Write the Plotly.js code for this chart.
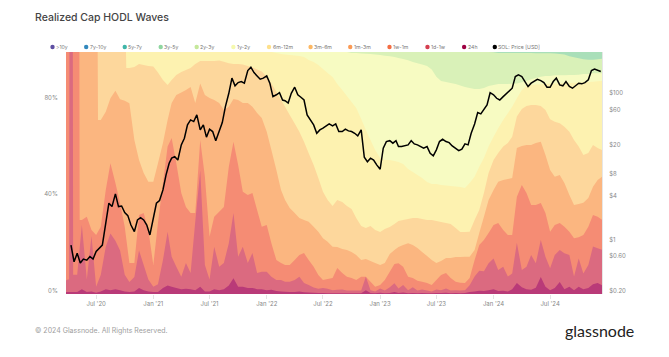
<!DOCTYPE html>
<html><head><meta charset="utf-8">
<script src="https://cdn.plot.ly/plotly-3.0.1.min.js"></script>
<style>html,body{margin:0;padding:0;background:#fff}#c{width:669px;height:357px}</style>
</head><body><div id="c"></div>
<script>
// Legend
const legendNames = [">10y","7y-10y","5y-7y","3y-5y","2y-3y","1y-2y","6m-12m","3m-6m","1m-3m","1w-1m","1d-1w","24h","SOL: Price [USD]"];
const legendColors = ["#5e4fa2","#3288bd","#3fb5a8","#8fd6a0","#c5e89b","#f5f9ae","#fee08b","#fdb863","#fb9a55","#f46d43","#d53e4f","#9e0142","#000000"];
const legendPx = [52,85.7,124.3,160.3,196.3,233,268.7,310.3,350,389.3,427.3,464,494.7];

// Axis ticks
const xTickVals = ["2020-07-01","2021-01-01","2021-07-01","2022-01-01","2022-07-01","2023-01-01","2023-07-01","2024-01-01","2024-07-01"];
const xTickText = ["Jul '20","Jan '21","Jul '21","Jan '22","Jul '22","Jan '23","Jul '23","Jan '24","Jul '24"];
const pctTicks = [0,40,80];
const pctText = ["0%","40%","80%"];
const priceTicks = [0.2,0.6,1,4,8,20,60,100];
const priceText = ["$0.20","$0.60","$1","$4","$8","$20","$60","$100"];

// Sampling dates of the bands: the 1st and 16th of each month
const bandDates = ["2020-03-16"];
for (let y=2020;y<=2024;y++) for (let m=(y===2020?4:1);m<=12;m++) {
  const mm=String(m).padStart(2,"0");
  bandDates.push(y+"-"+mm+"-01", y+"-"+mm+"-16");
}
// Sampling dates of the price: the 1st, 11th and 21st of each month
const priceDates = ["2020-04-11","2020-04-21"];
for (let y=2020;y<=2024;y++) for (let m=(y===2020?5:1);m<=12;m++) {
  const mm=String(m).padStart(2,"0");
  for (const d of ["01","11","21"]) { if(!(y===2024&&m===12&&d==="21")) priceDates.push(y+"-"+mm+"-"+d); }
}

// Cumulative share (%) at the top of each cohort band
const top24h = [0.8,0.8,0.8,0.8,2,0.8,1,0.5,1,2,1.5,2,1.5,1,0.8,1,2.5,1.5,1,0.8,
 0.8,2.5,3.5,3,2.5,2,2.2,2,1.5,3,1,1,2,1.5,2,3.5,6.5,3,3,2.5,
 2.5,2,2,1.5,1.8,1.2,1,0.9,0.8,0.8,1,0.7,0.6,0.5,0.4,0.4,0.3,0.3,0.3,0.3,
 0.3,0.3,0.3,0.3,1.5,0.4,0.3,0.5,0.3,0.4,0.8,0.4,0.6,0.3,0.4,0.3,0.4,0.3,0.3,0.4,
 0.4,0.5,0.3,0.4,0.3,0.4,0.8,1,1.3,1.2,1.6,2,1.2,1.3,1,2,4.5,2.8,2,1.8,
 2.6,7,3,1.5,2.5,5,2,3,1.5,3,2,2.5,4,4.5,3.5];
const top1d1w = [5,6,100,8,28.5,6,24,3,8,19.5,25,22,18,8,5,7,18,12,6,3,
 4,14,25.7,15.4,11.3,7.1,12.8,8.7,30,51,12,6,19.5,11.3,12.8,21,33.5,15.4,19.5,12.8,
 16.9,8.7,9.2,9.2,7.1,5.8,5.8,5.1,5.1,5.8,7.1,4.5,3.7,2.7,2.2,2.5,2.2,1.6,1.8,1.9,
 1.4,1.4,1.4,1.4,7.1,1.6,1,2.3,1.4,2.8,4.4,2.3,3.7,1.6,2.8,1.4,1.9,1.4,1,1.9,
 1.6,2.3,1.4,1.6,1.4,1.6,3.6,7.2,9.6,9.4,12.7,14.7,9.9,11.3,7.2,8.5,21.2,9.9,11.3,16.1,
 12.7,22.3,15.4,10.6,16.1,18.2,16.8,16.1,7.2,14.7,8.5,12,19.6,18.9,18.2];
const top1w1m = [100,100,100,100,30.6,31.9,26.4,24.4,27.8,43,54,45.9,37.6,27.8,12.8,12.8,32.6,33.5,26.4,12,
 29.3,45.9,60.9,64.5,54,41.7,36,33.5,33.5,63.6,48.5,23.7,31.9,34,36,52.6,62.9,53.3,42.3,40.9,
 41.7,34.7,27.8,28.5,21,14,12.8,12,12,14,16.1,16.9,14,11.3,7.9,5.8,6.2,6.6,10.7,8.7,
 7.1,6.6,5.8,7.1,7.1,5.1,3,3.7,5.8,9.2,12.4,12.7,11.3,7.1,6.6,5.5,5.1,4.5,3.7,5.8,
 7.9,8.7,6.6,5.1,4.7,4.5,6.6,14,20.2,22.3,25.2,28.5,29.3,26.4,24.4,24.4,40.2,45,41.7,36.8,
 36.8,37.6,33.5,25.7,28.5,29.3,27.8,25.7,23,23.4,24.4,27.8,32.6,31.9,30.6];
const top1m3m = [100,100,100,100,100,100,100,100,71.9,75.3,80.9,84,80.5,79.9,78.8,63.6,55.4,50,46.4,46.4,
 54,62.4,71.9,78.9,82.2,83.3,84.3,85.5,78.9,87,82.2,81,80.2,78.9,76,77.4,80.6,80.2,78.9,78.9,
 77.4,74.8,72.7,67,59.5,51.2,43,38.8,35.5,33.5,31.4,30.6,29.9,27.8,25.7,23,21.6,19.5,19.4,18.6,
 18.2,17.4,16.1,14,14.5,13.6,12.8,12,12.8,16.5,18.2,19.4,20.2,21,20.2,19,17.4,15.7,14,12.8,
 13.6,14.9,14.9,15.3,15.3,15.4,15.4,18.2,25.2,31.9,38.8,43,46.4,47.1,47.5,47.9,60.3,61.2,61.6,61.6,
 62.4,62.9,57.4,51.2,48.5,49.2,45.9,40.9,36.8,37.2,37.7,39.7,44.3,47.1,48.5];
const top3m6m = [100,100,100,100,100,100,100,100,100,100,100,100,100,100,93.4,93.8,95,94.6,94.2,94,
 91.5,88.4,86.4,88.4,90.5,91.7,92.6,93.4,95,96.3,96.3,96.3,96.3,96.5,96,95.3,95,95,94.8,94.2,
 93.7,92.8,91.9,89.8,87,83.6,80.2,77.4,74,70.5,67,62.9,58.2,53.3,47.9,42.3,38.8,36.4,38.8,38,
 36.4,35.1,31.4,28.1,27.3,28.1,26.4,25.6,26.9,27.7,28.9,30.2,30.6,31,31.4,31.4,31,30.6,30.6,30.2,
 29.8,29.3,28.9,27.3,25.6,25.6,25.7,30.6,34.7,41.7,50,55.4,58.3,60.9,62.4,65,73.3,76.4,77.7,78.1,
 78.1,77.7,76,72.2,71.2,70.6,69.1,67,63.6,60.9,57.4,58.3,61.6,60.3,59.5];
const top6m12m = [100,100,100,100,100,100,100,100,100,100,100,100,100,100,100,100,100,100,100,100,
 100,100,100,100,100,100,100,100,100,100,100,100,100,100,100,100,100,100,100,100,
 100,100,100,100,100,99.6,99.2,99,98.8,98.6,98.3,97.9,96.7,95.9,94.6,93,91.3,89.7,86.8,84.3,
 81.8,79.3,76.9,72.3,67.8,63.6,59.5,56.2,55.4,55.4,55,54.5,53.7,51.7,50.4,49.2,47.9,46.3,45.5,45.5,
 45,44.8,44.6,44.4,44.2,43.8,45.9,48.5,52.6,56.2,60.9,65,68.5,71.9,74.7,77.4,80.9,84.3,86,86.4,
 86.6,86.7,86.8,86.9,87,87,87.1,87.2,87.3,87.4,87.5,87.6,87.7,87.9,88];
const top1y2y = [100,100,100,100,100,100,100,100,100,100,100,100,100,100,100,100,100,100,100,100,
 100,100,100,100,100,100,100,100,100,100,100,100,100,100,100,100,100,100,100,100,
 100,100,100,100,100,100,100,100,100,100,100,100,100,100,100,100,100,100,100,100,
 100,99.6,99.6,99.4,99.3,99.2,99,98.8,98.5,98.2,97.9,97.5,97.1,96.6,95.9,95.3,94.8,94.2,92.8,89.8,
 88,87.6,87.2,86.8,86.2,85.5,85.1,84.7,84.7,85.1,86,86.4,86.8,86.8,86.8,86.9,87,87.5,88,88.7,
 89.3,89.8,90.1,90.1,90.4,90.4,90.4,90.5,90.5,90.6,90.9,90.9,91.2,91.2,91.2];
const top2y3y = [100,100,100,100,100,100,100,100,100,100,100,100,100,100,100,100,100,100,100,100,
 100,100,100,100,100,100,100,100,100,100,100,100,100,100,100,100,100,100,100,100,
 100,100,100,100,100,100,100,100,100,100,100,100,100,100,100,100,100,100,100,100,
 100,100,100,100,100,100,100,100,100,100,100,100,100,100,100,100,100,100,100,100,
 100,100,100,100,100,100,100,100,100,100,100,99.9,99.6,99.6,99.6,99.6,99.6,99.6,99.6,99.6,
 99.5,99.5,99.5,99.5,99.4,99.2,99,98.2,97.8,97.4,97,96.8,96.8,97,97.2];
const top3y5y = [100,100,100,100,100,100,100,100,100,100,100,100,100,100,100,100,100,100,100,100,
 100,100,100,100,100,100,100,100,100,100,100,100,100,100,100,100,100,100,100,100,
 100,100,100,100,100,100,100,100,100,100,100,100,100,100,100,100,100,100,100,100,
 100,100,100,100,100,100,100,100,100,100,100,100,100,100,100,100,100,100,100,100,
 100,100,100,100,100,100,100,100,100,100,100,100,100,100,100,100,100,100,100,100,
 100,100,100,100,100,100,100,100,100,100,100,100,100,100,100];

// Sharp step edges at the start of the history
const edge1d1wDates = ["2020-04-05","2020-04-06","2020-04-17","2020-04-18"];
const edge1d1wVals = [6,100,100,8];
const edge1w1mDates = ["2020-05-08","2020-05-09"];
const edge1w1mVals = [100,30.6];
const edge1m3mDates = ["2020-07-06","2020-07-07"];
const edge1m3mVals = [100,71.9];
const edge3m6mDates = ["2020-10-05","2020-10-06"];
const edge3m6mVals = [100,93.4];

// SOL price, USD
const solPrice = [0.93,0.55,0.72,0.53,0.60,0.58,0.65,0.60,0.76,0.84,0.93,1.85,3.47,3.12,4.65,3.12,3.18,2.58,2.35,1.75,
 1.42,2.05,2.2,2.05,1.75,1.28,2.05,3.47,3.77,5.27,8.45,12.2,14.3,15,13.5,21.7,26.8,40.7,47.6,45.2,
 55.7,34.8,40.7,27.7,35.6,33,24.8,34.8,43.8,72.4,110,177,139,154,159,151,225,250,211,190,
 171,177,190,151,99,105,112,89,87,81,110,133,105,97,89,55.7,47.6,40.7,31.3,34.8,
 36.7,39.4,42,39.4,42,33,33,35.6,33.7,33,31.3,28.8,34.8,14.7,12.8,14.3,13.5,11.6,10.1,19.6,
 24.1,24.8,22.9,24.8,20.6,20.6,21,21.7,24.8,22.4,21.7,20.6,19.6,20.6,16.7,15.4,18.6,24.1,25.9,24.1,
 23.3,21,19.6,18.1,19,22.4,21.7,31.3,42,60,57.6,66.7,76.4,112,105,94,89,99,108,116,
 129,186,196,186,159,136,151,159,171,164,154,133,133,159,177,143,139,159,136,129,
 139,151,148,154,168,225,235,225,218];

function merged(vals, eDates, eVals){
  const pts = bandDates.map((d,i)=>[d,vals[i]]);
  if (eDates) eDates.forEach((d,i)=>{ const j=pts.findIndex(p=>p[0]===d); if(j>=0) pts.splice(j,1); pts.push([d,eVals[i]]); });
  pts.sort((a,b)=>a[0]<b[0]?-1:a[0]>b[0]?1:0);
  return {x:pts.map(p=>p[0]), y:pts.map(p=>p[1])};
}
function band(name,vals,color,eD,eV){
  const m = merged(vals,eD,eV);
  return {type:"scatter",mode:"none",name,x:m.x,y:m.y,fill:"tozeroy",fillcolor:color,line:{width:0},hoverinfo:"skip",xaxis:"x",yaxis:"y"};
}
const traces = [
  band("3y-5y",top3y5y,"#a9dfb9"),
  band("2y-3y",top2y3y,"#d9f1b8"),
  band("1y-2y",top1y2y,"#f7fbc2"),
  band("6m-12m",top6m12m,"#fdf2b0"),
  band("3m-6m",top3m6m,"#fdd79c",edge3m6mDates,edge3m6mVals),
  band("1m-3m",top1m3m,"#fbb680",edge1m3mDates,edge1m3mVals),
  band("1w-1m",top1w1m,"#f58c74",edge1w1mDates,edge1w1mVals),
  band("1d-1w",top1d1w,"#db6a80",edge1d1wDates,edge1d1wVals),
  band("24h",top24h,"#b93a78"),
  {type:"scatter",mode:"lines",name:"SOL: Price [USD]",x:priceDates,y:solPrice,yaxis:"y2",xaxis:"x",line:{color:"#000",width:1.5}}
];

const L=65.5,R=602,T=52,B=294;
const px=v=>(v-L)/(R-L), py=v=>(B-v)/(B-T);
const shapes = legendPx.map((p,i)=>({type:"circle",xref:"paper",yref:"paper",x0:px(p-2.2),x1:px(p+2.2),y0:py(47+2.2),y1:py(47-2.2),fillcolor:legendColors[i],line:{width:0}}));
const annotations = legendPx.map((p,i)=>({xref:"paper",yref:"paper",x:px(p+1.5),y:py(47),xanchor:"left",yanchor:"middle",showarrow:false,text:legendNames[i],font:{family:"Inter",size:5.2,color:"#777"}}));
annotations.push({xref:"paper",yref:"paper",x:px(32.5),y:py(330.5),xanchor:"left",yanchor:"middle",showarrow:false,text:"© 2024 Glassnode. All Rights Reserved.",font:{family:"Inter",size:7,color:"#a0a0a0"}});
annotations.push({xref:"paper",yref:"paper",x:px(636),y:py(330),xanchor:"right",yanchor:"middle",showarrow:false,text:"glassnode",font:{family:"Lato",size:16,color:"#222"}});

Plotly.newPlot("c",traces,{
  width:669,height:357,
  margin:{l:L,r:669-R,t:T,b:357-B,pad:0},
  paper_bgcolor:"#fff",plot_bgcolor:"#fff",showlegend:false,
  title:{text:"Realized Cap HODL Waves",x:35/669,xanchor:"left",y:1-17.5/357,yanchor:"middle",font:{family:"Inter",size:10.5,weight:500,color:"#444"}},
  xaxis:{type:"date",range:["2020-03-26","2024-12-15"],tickmode:"array",tickvals:xTickVals,ticktext:xTickText,ticks:"outside",ticklen:4,tickcolor:"#e4e4e4",tickfont:{family:"Inter",size:6,color:"#888"},showgrid:false,zeroline:false,showline:false,fixedrange:true},
  yaxis:{range:[0,100],tickmode:"array",tickvals:pctTicks,ticktext:pctText,ticks:"outside",ticklen:6,tickcolor:"rgba(0,0,0,0)",tickfont:{family:"Inter",size:6,color:"#888"},ticklabelshift:-3,showgrid:false,zeroline:false,showline:false,fixedrange:true},
  yaxis2:{type:"log",overlaying:"y",side:"right",range:[-0.699,2.605],tickmode:"array",tickvals:priceTicks,ticktext:priceText,ticks:"outside",ticklen:5,tickcolor:"rgba(0,0,0,0)",tickfont:{family:"Inter",size:6,color:"#888"},ticklabelshift:-3,showgrid:false,zeroline:false,showline:true,linecolor:"#e6e6e6",linewidth:1,fixedrange:true},
  shapes,annotations
},{displayModeBar:false,staticPlot:true});
</script></body></html>
